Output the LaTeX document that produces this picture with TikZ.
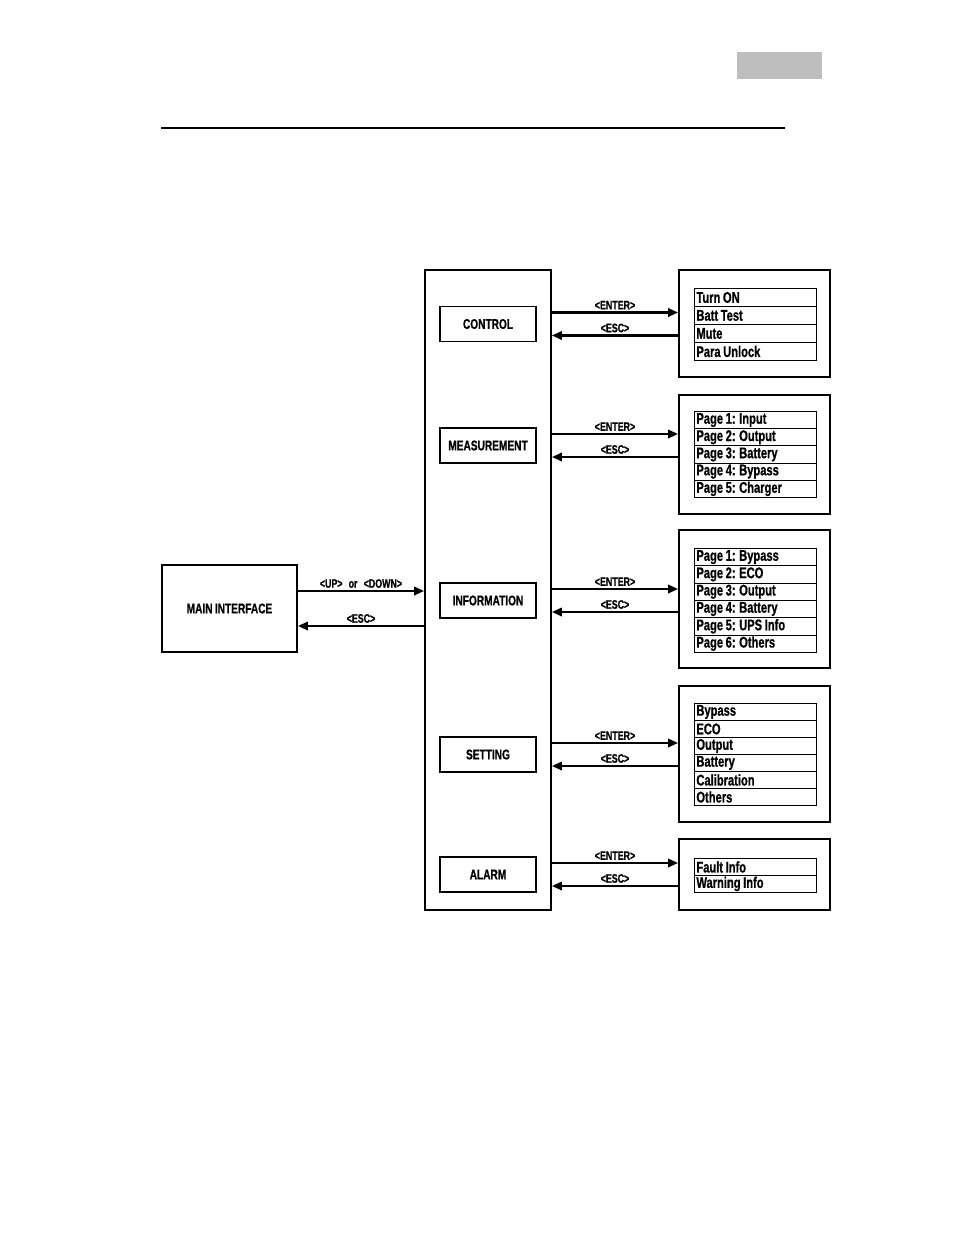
\documentclass[tikz,border=0pt]{standalone}
\usepackage{fontspec}
\newfontfamily\condfont[FakeStretch=0.72,FakeBold=0.8,WordSpace=0.85]{Liberation Sans}
\usetikzlibrary{arrows.meta,calc}
\definecolor{tabgray}{RGB}{190,190,190}
\tikzset{
  frame/.style={draw, line width=1.1pt, inner sep=0pt},
  menubox/.style={frame, minimum width=19.2mm, minimum height=7mm, font=\condfont\bfseries\footnotesize},
  listrow/.style={draw, line width=0.5pt, anchor=north west, text width=23.6mm, align=flush left,
    inner xsep=0.4mm, inner ysep=0pt, font=\condfont\bfseries\fontsize{8.8}{9}\selectfont},
  keylabel/.style={font=\condfont\bfseries\fontsize{7}{8}\selectfont, inner sep=1.2pt},
  arr/.style={line width=1.2pt, -{Triangle[length=2mm,width=1.7mm]}}
}
% one list of entries in a submenu box (row height in px)
\newcommand\menulist[4]{%
  \foreach \txt [count=\k from 0] in {#4}
    \node[listrow, minimum height=0.2mm*#3] (#1-\k) at (694, #2 + \k*#3) {\txt};}
\begin{document}
\begin{tikzpicture}[x=0.2mm, y=-0.2mm]
\useasboundingbox (0,0) rectangle (954,1235);
% page header
\fill[tabgray] (737,52) rectangle (822,79);
\draw[line width=0.6pt] (161,128) -- (785,128);

\node[frame, minimum width=27mm, minimum height=17.4mm, font=\condfont\bfseries\footnotesize] (main) at (229.5,608.5) {MAIN INTERFACE};
\node[frame, minimum width=25.2mm, minimum height=128mm] (col) at (488,590) {};

\node[menubox] (ctl) at (488,324) {CONTROL};
\node[menubox] (meas) at (488,445.5) {MEASUREMENT};
\node[menubox] (info) at (488,600.5) {INFORMATION};
\node[menubox] (set) at (488,754.5) {SETTING};
\node[menubox] (alm) at (488,874.5) {ALARM};

\node[frame, minimum width=30.2mm, minimum height=21.4mm] (sub1) at (754.5,323.5) {};
\node[frame, minimum width=30.2mm, minimum height=23.8mm] (sub2) at (754.5,454.5) {};
\node[frame, minimum width=30.2mm, minimum height=27.6mm] (sub3) at (754.5,599) {};
\node[frame, minimum width=30.2mm, minimum height=27.2mm] (sub4) at (754.5,754) {};
\node[frame, minimum width=30.2mm, minimum height=14.2mm] (sub5) at (754.5,874.5) {};

\menulist{ctl}{288}{18}{Turn ON, Batt Test, Mute, Para Unlock}
\menulist{meas}{411}{17.2}{Page 1: Input, Page 2: Output, Page 3: Battery, Page 4: Bypass, Page 5: Charger}
\menulist{info}{548}{17.3}{Page 1: Bypass, Page 2: ECO, Page 3: Output, Page 4: Battery, Page 5: UPS Info, Page 6: Others}
\menulist{set}{703}{17}{Bypass, ECO, Output, Battery, Calibration, Others}
\menulist{alm}{858}{17}{Fault Info, Warning Info}

% main interface <-> menu column
\coordinate (up) at ($(main.east)+(0,-17.5)$);
\coordinate (back) at ($(main.east)+(0,17.5)$);
\draw[arr] (up) -- (up -| col.west) node[keylabel, midway, above] {<UP>\enspace or\enspace <DOWN>};
\draw[arr] (back -| col.west) -- (back) node[keylabel, midway, above] {<ESC>};

% menus <-> submenus
\foreach \m/\s in {ctl/sub1, meas/sub2, info/sub3, set/sub4, alm/sub5} {
  \coordinate (\m-in) at ($(\m.center -| col.east)+(0,-11.5)$);
  \coordinate (\m-out) at ($(\m.center -| col.east)+(0,11.5)$);
  \draw[arr] (\m-in) -- (\m-in -| \s.west) node[keylabel, midway, above] {<ENTER>};
  \draw[arr] (\m-out -| \s.west) -- (\m-out) node[keylabel, midway, above] {<ESC>};
}
\end{tikzpicture}
\end{document}
